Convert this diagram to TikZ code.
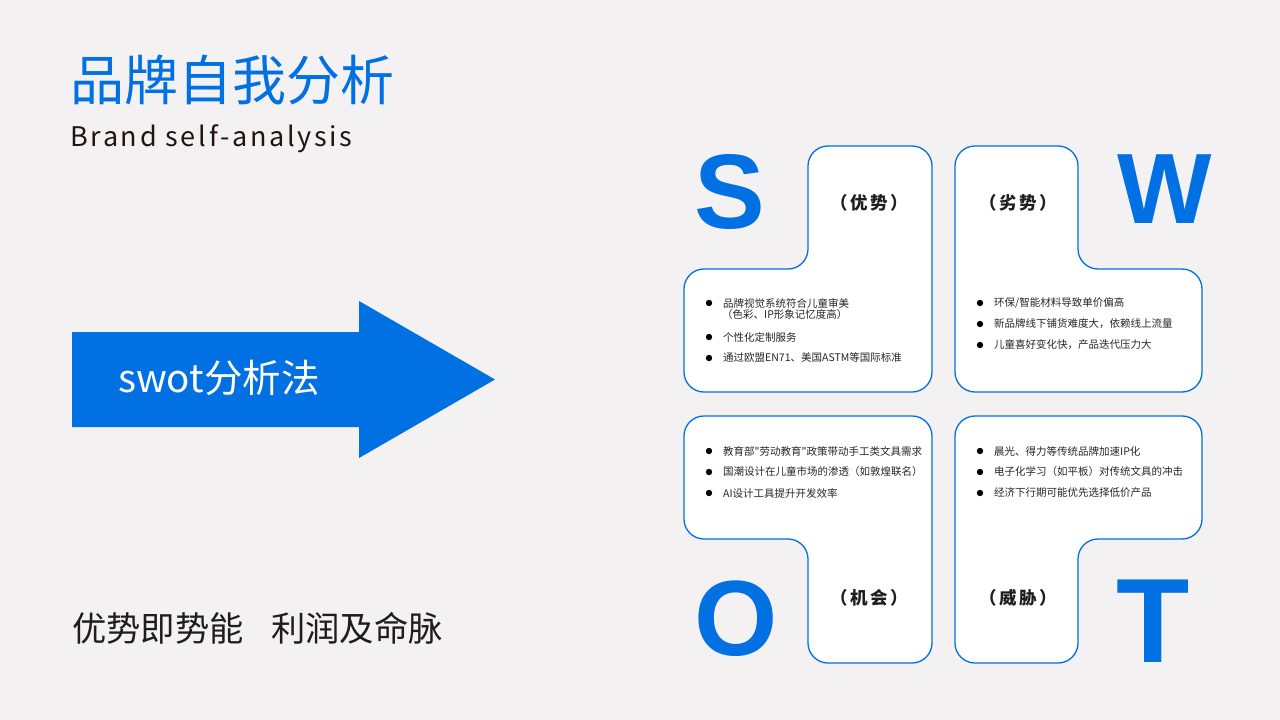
\documentclass[tikz,border=0pt]{standalone}
\usepackage{fontspec}
\setmainfont{Noto Sans CJK SC}
\newfontfamily\cjk{Noto Sans CJK SC}
\newfontfamily\cjksp[LetterSpace=10]{Noto Sans CJK SC}
\newfontfamily\tagfont[LetterSpace=14]{Noto Sans CJK SC}
\newfontfamily\swotfont{Liberation Sans}
\usepackage{tikz}
\usetikzlibrary{positioning}
\definecolor{bgc}{HTML}{F3F1F2}
\definecolor{brand}{HTML}{0070E2}
\definecolor{ink}{HTML}{1E1E1E}
\definecolor{brown}{HTML}{22150F}
\definecolor{body}{HTML}{262626}
\tikzset{
  quad/.style={draw=brand,fill=white,line width=1.3pt,rounded corners=20pt},
  letter/.style={inner sep=0pt,text=brand,font=\swotfont\bfseries\fontsize{#1}{#1}\selectfont},
  tag/.style={inner sep=0pt,text=ink,font=\tagfont\bfseries\fontsize{17.5}{17.5}\selectfont},
  item/.style={anchor=west,inner sep=0pt,text=body,font=\cjk\fontsize{10.5}{12}\selectfont},
  dot/.style={fill=black}
}
\begin{document}
\begin{tikzpicture}[x=1pt,y=-1pt]
  \useasboundingbox (0,0) rectangle (1280,720);
  \fill[bgc] (0,0) rectangle (1280,720);
  \node[inner sep=0pt,anchor=west,text=brand,font=\cjk\fontsize{54}{54}\selectfont] (title) at (70,80) {品牌自我分析};
  \node[inner sep=0pt,anchor=base west,text=brown,font=\cjksp\fontsize{27}{27}\selectfont] (subtitle) at (70,146) {Brand self-analysis};
  \fill[brand] (72,332) -- (359,332) -- (359,301) -- (495,379.5) -- (359,458) -- (359,427) -- (72,427) -- cycle;
  \node[inner sep=0pt,anchor=west,text=white,font=\cjk\fontsize{38.5}{38.5}\selectfont] (method) at (118,378) {swot分析法};
  \node[inner sep=0pt,anchor=west,text=ink,font=\cjk\fontsize{34.3}{34.3}\selectfont] (motto) at (72,628) {优势即势能\hspace{0.8em}利润及命脉};
  \draw[quad] (870,146) -- (932,146) -- (932,392) -- (684,392) -- (684,269) -- (808,269) -- (808,146) -- cycle;
  \draw[quad] (1017,146) -- (1078,146) -- (1078,269) -- (1202,269) -- (1202,392) -- (955,392) -- (955,146) -- cycle;
  \draw[quad] (808,416) -- (932,416) -- (932,663) -- (808,663) -- (808,539) -- (684,539) -- (684,416) -- cycle;
  \draw[quad] (1078,416) -- (1202,416) -- (1202,539) -- (1078,539) -- (1078,663) -- (955,663) -- (955,416) -- cycle;
  \node[letter=106] (S) at (730,192) {S};
  \node[letter=100] (W) at (1164.5,189) {W};
  \node[letter=107] (O) at (736,618.5) {O};
  \node[letter=120] (T) at (1153,621) {T};
  \node[tag] (st) at (869,203) {（优势）};
  \node[tag] (wk) at (1018,203) {（劣势）};
  \node[tag] (op) at (869,598) {（机会）};
  \node[tag] (th) at (1018,598) {（威胁）};
  \foreach \n/\x/\y/\t in {
    s1/709/303/{品牌视觉系统符合儿童审美},
    s2/709/337/{个性化定制服务},
    s3/709/358/{通过欧盟EN71、美国ASTM等国际标准},
    w1/980/303/{环保/智能材料导致单价偏高},
    w2/980/324/{新品牌线下铺货难度大，依赖线上流量},
    w3/980/345/{儿童喜好变化快，产品迭代压力大},
    o1/709/451/{教育部"劳动教育"政策带动手工类文具需求},
    o2/709/472/{国潮设计在儿童市场的渗透（如敦煌联名）},
    o3/709/493/{AI设计工具提升开发效率},
    t1/980/451/{晨光、得力等传统品牌加速IP化},
    t2/980/472/{电子化学习（如平板）对传统文具的冲击},
    t3/980/493/{经济下行期可能优先选择低价产品}}{
    \fill[dot] (\x,\y) circle (3.2pt);
    \node[item] (\n) at (\x+14,\y) {\t};
  }
  \node[item] (s1b) at (722,315) {（色彩、IP形象记忆度高）};
\end{tikzpicture}
\end{document}
